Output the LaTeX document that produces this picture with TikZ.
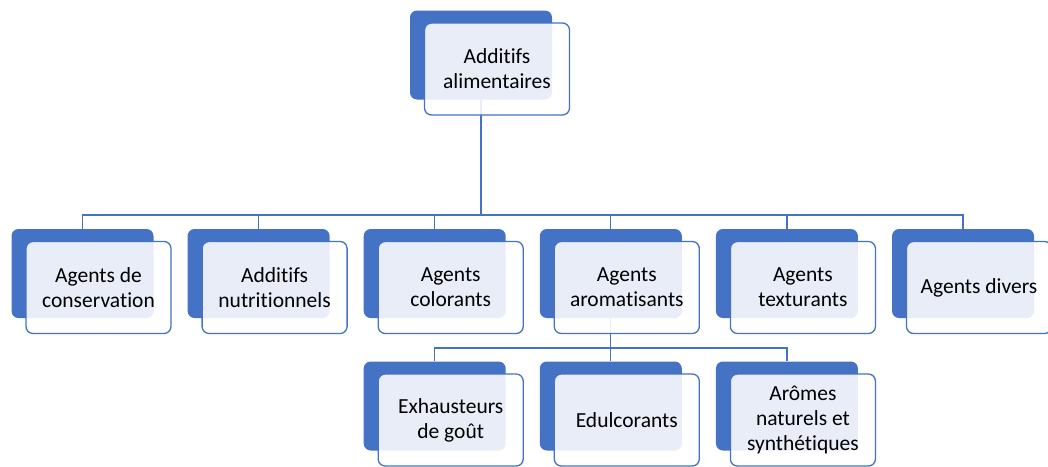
\documentclass[tikz,border=0pt]{standalone}
\usepackage{fontspec}
\setmainfont[Ligatures={NoCommon}]{Carlito}
\definecolor{obl}{HTML}{4472C4}
\pgfdeclarelayer{bg}
\pgfsetlayers{bg,main}
\tikzset{
 backbox/.style={fill=obl, draw=none, rounded corners=7pt, minimum width=142pt, minimum height=89pt, inner sep=0pt},
 frontbox/.style={draw=obl, line width=1.3pt, fill=white, fill opacity=0.88, text opacity=1, rounded corners=7pt, minimum width=145pt, minimum height=92pt, align=center, font=\fontsize{21.5}{25}\selectfont, inner sep=0pt},
 link/.style={draw=obl, line width=1.2pt}
}
\begin{document}
\begin{tikzpicture}[x=1pt,y=-1pt]
\useasboundingbox (0,0) rectangle (1048,466);
% root
\node[backbox] (rootb) at (481,55) {};
\node[frontbox] (root) at ([shift={(16,14)}]rootb.center) {Additifs\\alimentaires};
% second row
\node[backbox] (c1b) at (82.5,273.5) {};
\node[frontbox] (c1) at ([shift={(16,14)}]c1b.center) {Agents de\\conservation};
\node[backbox] (c2b) at (258.6,273.5) {};
\node[frontbox] (c2) at ([shift={(16,14)}]c2b.center) {Additifs\\nutritionnels};
\node[backbox] (c3b) at (434.7,273.5) {};
\node[frontbox] (c3) at ([shift={(16,14)}]c3b.center) {Agents\\colorants};
\node[backbox] (c4b) at (610.8,273.5) {};
\node[frontbox] (c4) at ([shift={(16,14)}]c4b.center) {Agents\\aromatisants};
\node[backbox] (c5b) at (786.9,273.5) {};
\node[frontbox] (c5) at ([shift={(16,14)}]c5b.center) {Agents\\texturants};
\node[backbox] (c6b) at (963,273.5) {};
\node[frontbox] (c6) at ([shift={(16,14)}]c6b.center) {Agents divers};
% third row
\node[backbox] (d1b) at (434.7,406) {};
\node[frontbox] (d1) at ([shift={(16,14)}]d1b.center) {Exhausteurs\\de goût};
\node[backbox] (d2b) at (610.8,406) {};
\node[frontbox] (d2) at ([shift={(16,14)}]d2b.center) {Edulcorants};
\node[backbox] (d3b) at (786.9,406) {};
\node[frontbox] (d3) at ([shift={(16,14)}]d3b.center) {Arômes\\naturels et\\synthétiques};
% connectors
\begin{pgfonlayer}{bg}
\coordinate (bus1) at (0,215);
\coordinate (bus2) at (0,348);
\foreach \c in {c1b,c2b,c3b,c4b,c5b,c6b}
  \draw[link] (rootb.south) -- (rootb.south |- bus1) -| (\c.north);
\foreach \c in {d1b,d2b,d3b}
  \draw[link] (c4b.south) -- (c4b.south |- bus2) -| (\c.north);
\end{pgfonlayer}
\end{tikzpicture}
\end{document}
